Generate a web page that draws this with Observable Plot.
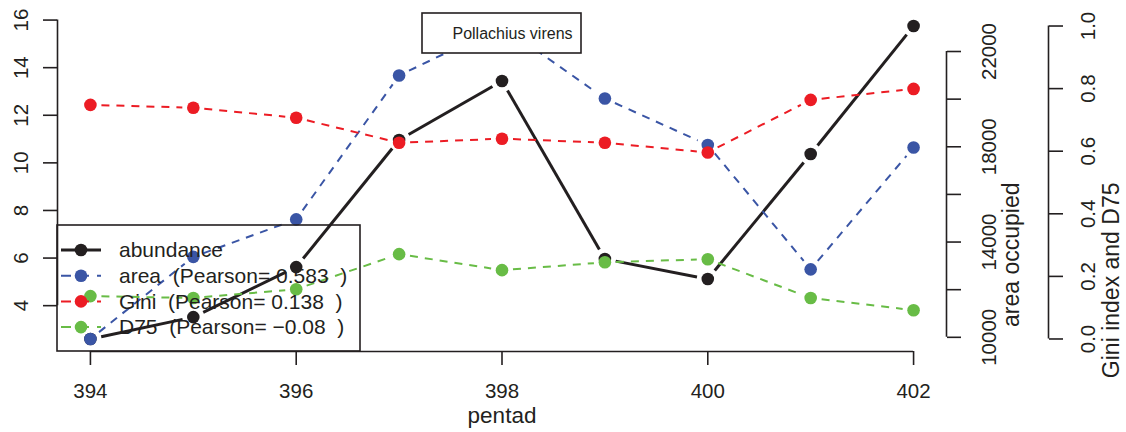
<!DOCTYPE html>
<html>
<head>
<meta charset="utf-8">
<script src="https://cdn.jsdelivr.net/npm/d3@7"></script>
<script src="https://cdn.jsdelivr.net/npm/@observablehq/plot@0.6"></script>
<style>
  html, body { margin: 0; padding: 0; background: #fff; }
  svg text { white-space: pre; }
</style>
</head>
<body>
<div id="chart"></div>
<script>
// ---- data ----
const pentad = [394, 395, 396, 397, 398, 399, 400, 401, 402];
const abundance = [2.6, 3.52, 5.62, 10.96, 13.44, 5.96, 5.12, 10.37, 15.75];
const area = [9930, 13378, 14951, 20994, 23070, 20028, 18077, 12853, 17972];
const gini = [0.748, 0.739, 0.707, 0.627, 0.640, 0.627, 0.596, 0.764, 0.799];
const d75 = [0.137, 0.131, 0.159, 0.271, 0.220, 0.245, 0.255, 0.131, 0.092];

const xTicks = [394, 396, 398, 400, 402];
const leftTicks = [4, 6, 8, 10, 12, 14, 16];
const areaTicks = [10000, 12000, 14000, 16000, 18000, 20000, 22000];
const areaTickLabels = [10000, 14000, 18000, 22000];
const giniTicks = [0, 0.2, 0.4, 0.6, 0.8, 1.0];
const giniLimits = [0, 1];

const xTitle = "pentad";
const areaTitle = "area occupied";
const giniTitle = "Gini index and D75";
const chartTitle = "Pollachius virens";
const legendLabels = [
  "abundance",
  "area  (Pearson= 0.583  )",
  "Gini  (Pearson= 0.138  )",
  "D75  (Pearson= \u22120.08  )"
];

// ---- styles ----
const C_BLACK = "#231f20", C_BLUE = "#3a55a5", C_RED = "#ec1c24", C_GREEN = "#68bc46";
const DASH = "8,7";
const FONT = "'Liberation Sans', Arial, Helvetica, sans-serif";
const W = 1126, H = 432;
const M = {left: 57, right: 180, top: 13, bottom: 81};

// R-style 4% padding
const pad = ([a, b]) => [a - 0.04 * (b - a), b + 0.04 * (b - a)];
const xDom = pad(d3.extent(pentad));
const yDom = pad(d3.extent(abundance));
const areaDom = pad(d3.extent(area));
const giniDom = pad(giniLimits);
const toYArea = d3.scaleLinear(areaDom, yDom);
const toYGini = d3.scaleLinear(giniDom, yDom);

const seriesDefs = [
  {vals: abundance, map: v => v, color: C_BLACK, width: 3, dash: null},
  {vals: area, map: toYArea, color: C_BLUE, width: 2, dash: DASH},
  {vals: gini, map: toYGini, color: C_RED, width: 2, dash: DASH},
  {vals: d75, map: toYGini, color: C_GREEN, width: 2, dash: DASH}
];

const seriesMarks = seriesDefs.flatMap(s => {
  const pts = pentad.map((x, i) => ({x, y: s.map(s.vals[i])}));
  const segs = pts.slice(1).map((p, i) => ({x1: pts[i].x, y1: pts[i].y, x2: p.x, y2: p.y}));
  return [
    Plot.arrow(segs, {x1: "x1", y1: "y1", x2: "x2", y2: "y2", headLength: 0, inset: 11,
      stroke: s.color, strokeWidth: s.width, strokeDasharray: s.dash, strokeLinecap: "butt"}),
    Plot.dot(pts, {x: "x", y: "y", r: 6.3, fill: s.color, stroke: null})
  ];
});

const AX = {strokeWidth: 1.6, fontSize: 20.5, label: null, tickSize: 14};
const areaLabelSet = new Set(areaTickLabels);

const chart = Plot.plot({
  width: W, height: H,
  marginLeft: M.left, marginRight: M.right, marginTop: M.top, marginBottom: M.bottom,
  x: {domain: xDom},
  y: {domain: yDom},
  style: {fontFamily: FONT, color: C_BLACK, background: "#fff", overflow: "visible"},
  marks: [
    // bottom axis
    Plot.ruleY([yDom[0]], {x1: d3.min(xTicks), x2: d3.max(xTicks), stroke: C_BLACK, strokeWidth: 1.6}),
    Plot.axisX(xTicks, {...AX, anchor: "bottom", tickPadding: 18, tickFormat: d => String(d)}),
    Plot.text([xTitle], {text: d => d, frameAnchor: "bottom", dy: 71, lineAnchor: "bottom", fontSize: 22.5, fill: C_BLACK}),
    // left axis
    Plot.ruleX([xDom[0]], {y1: d3.min(leftTicks), y2: d3.max(leftTicks), stroke: C_BLACK, strokeWidth: 1.6}),
    Plot.axisY(leftTicks, {...AX, anchor: "left", tickRotate: -90, tickPadding: 16, textAnchor: "middle", tickFormat: d => String(d)}),
    // right axis: area
    Plot.ruleX([xDom[1]], {y1: toYArea(d3.min(areaTicks)), y2: toYArea(d3.max(areaTicks)), stroke: C_BLACK, strokeWidth: 1.6}),
    Plot.axisY(areaTicks.map(toYArea), {...AX, anchor: "right", tickRotate: -90, tickPadding: 35, textAnchor: "middle",
      tickFormat: d => {
        const v = Math.round(toYArea.invert(d));
        return areaLabelSet.has(v) ? String(v) : "";
      }}),
    Plot.text([areaTitle], {text: d => d, frameAnchor: "right", dx: 65, rotate: -90, lineAnchor: "middle", fontSize: 23, fill: C_BLACK}),
    // right axis: gini / D75
    Plot.ruleX([xDom[1]], {y1: toYGini(d3.min(giniTicks)), y2: toYGini(d3.max(giniTicks)), dx: 102, stroke: C_BLACK, strokeWidth: 1.6}),
    Plot.axisY(giniTicks.map(toYGini), {...AX, anchor: "right", dx: 102, tickRotate: -90, tickPadding: 32, textAnchor: "middle",
      tickFormat: d => d3.format(".1f")(toYGini.invert(d))}),
    Plot.text([giniTitle], {text: d => d, frameAnchor: "right", dx: 165, rotate: -90, lineAnchor: "middle", fontSize: 23, fill: C_BLACK}),
    // series
    ...seriesMarks
  ]
});
document.getElementById("chart").appendChild(chart);

// ---- legend (bottom-left of plot region, R style, no fill) ----
const svg = d3.select(chart);
const LG = {w: 303, h: 126, rowGap: 25.7, firstRow: 25, lineX1: 4, lineX2: 44, ptX: 24, textX: 62};
const lx = M.left, ly = H - M.bottom - LG.h;
const lg = svg.append("g").attr("transform", `translate(${lx},${ly})`).attr("text-anchor", "start");
lg.append("rect").attr("x", 0).attr("y", 0).attr("width", LG.w).attr("height", LG.h)
  .attr("fill", "none").attr("stroke", C_BLACK).attr("stroke-width", 1.6);
legendLabels.forEach((lab, i) => {
  const s = seriesDefs[i];
  const yy = LG.firstRow + i * LG.rowGap;
  lg.append("line").attr("x1", LG.lineX1).attr("x2", LG.lineX2).attr("y1", yy).attr("y2", yy)
    .attr("stroke", s.color).attr("stroke-width", s.width)
    .attr("stroke-dasharray", s.dash ? "10,8" : null);
  lg.append("circle").attr("cx", LG.ptX).attr("cy", yy).attr("r", 6.3).attr("fill", s.color);
  lg.append("text").attr("x", LG.textX).attr("y", yy).attr("dy", "0.35em")
    .attr("text-anchor", "start")
    .attr("font-size", 21).attr("font-family", FONT).attr("fill", C_BLACK)
    .text(lab);
});

// ---- title box (top centre, white fill) ----
const TB = {w: 159, h: 40, textOffset: 11};
const cx = M.left + (W - M.left - M.right) / 2;
const tb = svg.append("g").attr("transform", `translate(${cx - TB.w / 2},${M.top})`);
tb.append("rect").attr("width", TB.w).attr("height", TB.h).attr("fill", "#fff")
  .attr("stroke", C_BLACK).attr("stroke-width", 1.6);
tb.append("text").attr("x", TB.w / 2 + TB.textOffset).attr("y", TB.h / 2).attr("dy", "0.35em")
  .attr("text-anchor", "middle").attr("font-size", 16).attr("font-family", FONT).attr("fill", C_BLACK)
  .text(chartTitle);
</script>
</body>
</html>
